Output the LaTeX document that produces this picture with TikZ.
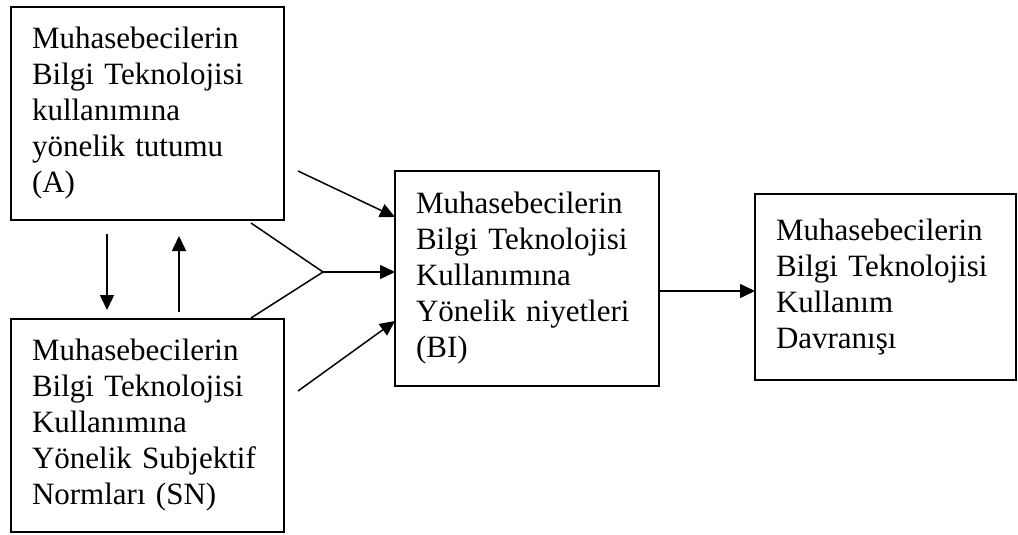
\documentclass[tikz,border=0pt]{standalone}
\usepackage{fontspec}
\setmainfont{Liberation Serif}
\usepackage{tikz}
\usetikzlibrary{arrows.meta}
\definecolor{black}{RGB}{0,0,0}
\definecolor{white}{RGB}{255,255,255}
\tikzset{
	box/.style={draw=black,line width=1.5pt,anchor=north west,outer sep=0pt,inner xsep=21pt,align=left,font=\fontsize{31}{36}\selectfont},
	arr/.style={black,line width=1.5pt,-{Triangle[length=15pt,width=14pt]}},
	lin/.style={black,line width=1.5pt}
}

\begin{document}
\begin{tikzpicture}[x=1pt,y=-1pt]
	\useasboundingbox[fill=white] (0,0) rectangle (1018,535);
	\node[box,text width=231pt,minimum height=213pt] (A) at (11,7) {Muhasebecilerin\\Bilgi Teknolojisi\\kullanımına\\yönelik tutumu\\(A)};
	\node[box,text width=231pt,minimum height=213pt] (SN) at (11,319) {Muhasebecilerin\\Bilgi Teknolojisi\\Kullanımına\\Yönelik Subjektif\\Normları (SN)};
	\node[box,text width=222pt,minimum height=215pt] (BI) at (395,171) {Muhasebecilerin\\Bilgi Teknolojisi\\Kullanımına\\Yönelik niyetleri\\(BI)};
	\node[box,text width=219pt,minimum height=186pt] (DB) at (755,194) {Muhasebecilerin\\Bilgi Teknolojisi\\Kullanım\\Davranışı};
	\coordinate (J) at (323,272);
	
	% A ve SN birlikte
	\draw[lin] ([shift={(-33pt,-3pt)}]A.south east) -- (J);
	\draw[lin] ([shift={(-33pt,1pt)}]SN.north east) -- (J);
	\draw[arr] (J) -- (J -| BI.west);
	
	\draw[arr] ([shift={(14pt,49pt)}]A.south east) -- ([yshift=-46pt]BI.north west);
	\draw[arr] ([shift={(14pt,34.5pt)}]SN.east) -- ([yshift=65pt]BI.south west);
	\draw[arr] ([shift={(-40.5pt,-14pt)}]A.south) -- ([shift={(-40.5pt,9pt)}]SN.north);
	\draw[arr] ([shift={(31.5pt,7pt)}]SN.north) -- ([shift={(31.5pt,-16pt)}]A.south);
	\draw[arr] ([yshift=-12.5pt]BI.east) -- ([yshift=-4pt]DB.west);
\end{tikzpicture}
\end{document}
